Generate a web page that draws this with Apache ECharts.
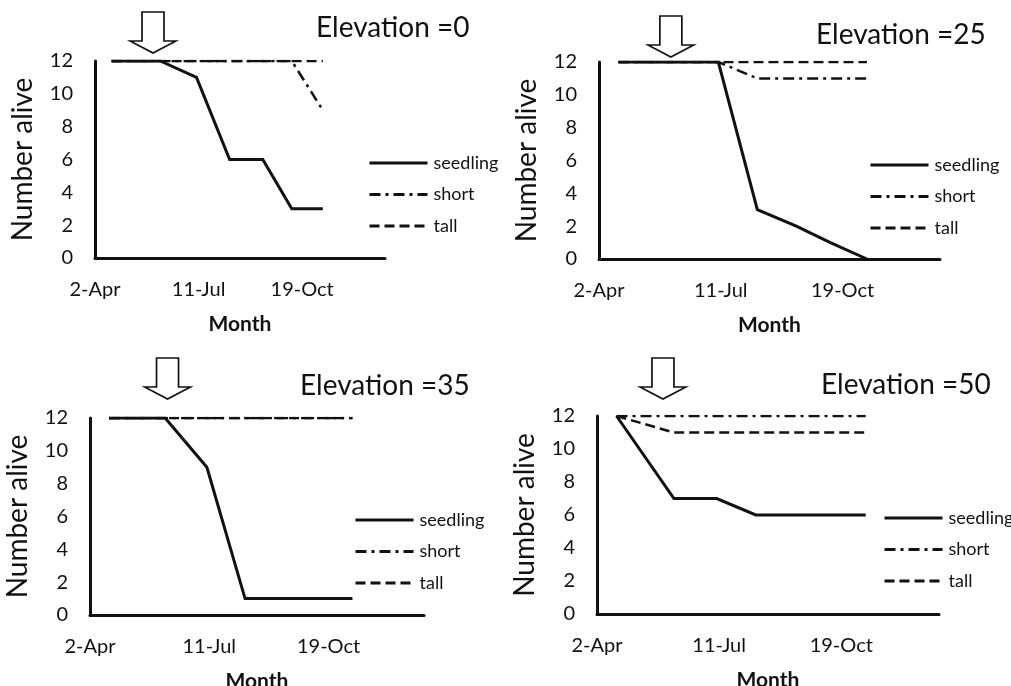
<!DOCTYPE html>
<html>
<head>
<meta charset="utf-8">
<script src="https://cdn.jsdelivr.net/npm/echarts@6/dist/echarts.min.js"></script>
<style>
html,body{margin:0;padding:0;background:#fff;}
#chart{width:1011px;height:686px;}
</style>
</head>
<body>
<div id="chart"></div>
<script>
// ---- data ----
const sampleDays = [16, 63, 98, 130, 162, 190, 220];   // days after 2-Apr
const tickDays = [0, 100, 200];
const tickLabels = ['2-Apr', '11-Jul', '19-Oct'];
const seriesNames = ['seedling', 'short', 'tall'];
const panelTitles = ['Elevation =0', 'Elevation =25', 'Elevation =35', 'Elevation =50'];
const arrowDays = [56, 59, 65, 54];

const seedling0  = [12, 12, 11, 6, 6, 3, 3];
const short0     = [12, 12, 12, 12, 12, 12, 9];
const tall0      = [12, 12, 12, 12, 12, 12, 12];

const seedling25 = [12, 12, 12, 3, 2, 1, 0];
const short25    = [12, 12, 12, 11, 11, 11, 11];
const tall25     = [12, 12, 12, 12, 12, 12, 12];

const seedling35 = [12, 12, 9, 1, 1, 1, 1];
const short35    = [12, 12, 12, 12, 12, 12, 12];
const tall35     = [12, 12, 12, 12, 12, 12, 12];

const seedling50 = [12, 7, 7, 6, 6, 6, 6];
const short50    = [12, 12, 12, 12, 12, 12, 12];
const tall50     = [12, 11, 11, 11, 11, 11, 11];

const panelData = [
  [seedling0, short0, tall0],
  [seedling25, short25, tall25],
  [seedling35, short35, tall35],
  [seedling50, short50, tall50]
];

// ---- layout / style ----
const FONT = 'Lato';
const INK = '#111';
const grids = [
  {left: 95,  top: 61,  width: 290, height: 197},
  {left: 599, top: 62,  width: 341, height: 197},
  {left: 90,  top: 418, width: 334, height: 197},
  {left: 597, top: 416, width: 342, height: 198}
];
const titlePos = [
  {left: 316, top: 14},
  {left: 816, top: 21},
  {left: 300, top: 372},
  {left: 821, top: 371}
];
const legendPos = [
  {left: 368, top: 153},
  {left: 869, top: 155},
  {left: 354, top: 510},
  {left: 883, top: 508}
];
const arrowGap = [8, 5, 19, 17];
const lineStyles = [
  {type: 'solid', width: 3},
  {type: [11, 5, 3, 5], width: 2.5},
  {type: [10, 5], width: 2.5}
];
const arrowPath = 'path://M12,0 L34,0 L34,29 L46,29 L23,41 L0,29 L12,29 Z';

const option = {
  backgroundColor: '#fff',
  animation: false,
  textStyle: {fontFamily: FONT, color: INK},
  title: [], grid: [], xAxis: [], yAxis: [], legend: [], series: []
};

for (let p = 0; p < 4; p++) {
  option.grid.push(Object.assign({containLabel: false, outerBoundsMode: 'none'}, grids[p]));
  option.title.push({
    text: panelTitles[p], left: titlePos[p].left, top: titlePos[p].top, padding: 0,
    textStyle: {fontFamily: FONT, fontSize: 28, fontWeight: 'normal', color: INK}
  });
  option.xAxis.push({
    type: 'value', gridIndex: p, min: 0, max: 280, interval: 100,
    name: 'Month', nameLocation: 'middle', nameGap: 56,
    nameTextStyle: {fontFamily: FONT, fontSize: 21, fontWeight: 'bold', color: INK},
    axisLine: {show: true, onZero: false, lineStyle: {color: INK, width: 3}},
    axisTick: {show: false},
    splitLine: {show: false},
    axisLabel: {
      margin: 22, fontFamily: FONT, fontSize: 20, color: INK, showMaxLabel: false,
      formatter: v => { const i = tickDays.indexOf(v); return i >= 0 ? tickLabels[i] : ''; }
    }
  });
  option.yAxis.push({
    type: 'value', gridIndex: p, min: 0, max: 12, interval: 2,
    name: 'Number alive', nameLocation: 'middle', nameGap: 58,
    nameTextStyle: {fontFamily: FONT, fontSize: 28, color: INK},
    axisLine: {show: true, onZero: false, lineStyle: {color: INK, width: 3}},
    axisTick: {show: false},
    splitLine: {show: false},
    axisLabel: {margin: 22, fontFamily: FONT, fontSize: 20, color: INK}
  });
  option.legend.push({
    data: seriesNames, orient: 'vertical', padding: 0,
    left: legendPos[p].left, top: legendPos[p].top,
    itemWidth: 58, itemHeight: 14, itemGap: 11.5,
    selectedMode: false,
    itemStyle: {opacity: 0},
    lineStyle: {width: 3, color: INK, opacity: 1},
    textStyle: {fontFamily: FONT, fontSize: 18, color: INK, lineHeight: 20, padding: [0, 0, 0, 1]}
  });
  for (let s = 0; s < 3; s++) {
    const ser = {
      name: seriesNames[s], type: 'line', xAxisIndex: p, yAxisIndex: p,
      symbol: 'none', z: 3,
      lineStyle: Object.assign({color: INK, cap: 'butt', join: 'miter'}, lineStyles[s]),
      itemStyle: {color: INK},
      data: sampleDays.map((d, i) => [d, panelData[p][s][i]])
    };
    if (s === 0) {
      ser.markPoint = {
        symbol: arrowPath, symbolSize: [46, 41], symbolKeepAspect: false,
        symbolOffset: [0, -(20.5 + arrowGap[p])],
        itemStyle: {color: '#fff', borderColor: INK, borderWidth: 1.6, opacity: 1},
        label: {show: false},
        data: [{coord: [arrowDays[p], 12]}]
      };
    }
    option.series.push(ser);
  }
}

const chart = echarts.init(document.getElementById('chart'), null, {renderer: 'canvas'});
chart.setOption(option);
</script>
</body>
</html>
